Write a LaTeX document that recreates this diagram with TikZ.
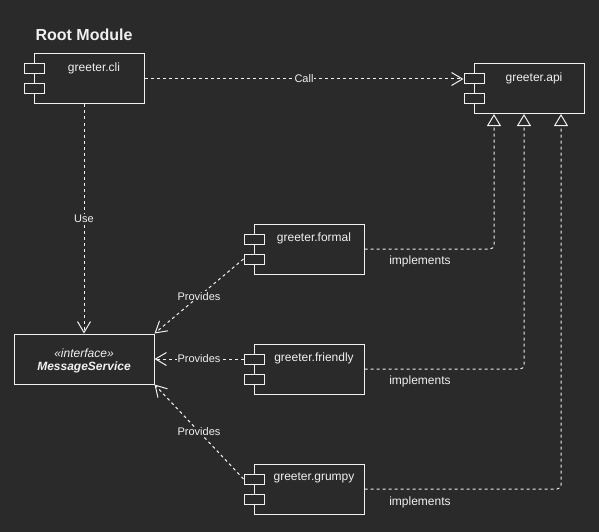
\documentclass[tikz,border=0pt]{standalone}
\usepackage{fontspec}
\setmainfont{Liberation Sans}
\usetikzlibrary{arrows.meta}
\definecolor{bg}{HTML}{2A2A2A}
\definecolor{fg}{HTML}{F0F0F0}
\begin{document}
\begin{tikzpicture}[x=1pt,y=-1pt,
  every node/.style={text=fg, inner sep=0pt},
  comp/.style={draw=fg, line width=1pt, minimum width=110pt, minimum height=50pt, fill=bg},
  port/.style={draw=fg, line width=1pt, minimum width=20pt, minimum height=10pt, fill=bg},
  ctext/.style={font=\fontsize{12}{14}\selectfont},
  elabel/.style={font=\fontsize{11}{13}\selectfont, fill=bg, inner sep=1pt},
  ilabel/.style={font=\fontsize{12}{14}\selectfont},
  dashline/.style={draw=fg, line width=1pt, dash pattern=on 3pt off 3pt},
  dep/.style={dashline, -{Straight Barb[length=11pt,width=13pt,line width=1pt]}},
  impl/.style={dashline, rounded corners=4pt, -{Triangle[open,length=12pt,width=14pt,fill=bg,line width=1pt]}}
]
\fill[bg] (0,0) rectangle (599,532);
\useasboundingbox (0,0) rectangle (599,532);

\node[font=\bfseries\fontsize{16}{18}\selectfont] (title) at (84,35) {Root Module};

% components
\node[comp] (cli) at (89,79) {};
\node[comp] (api) at (529,89) {};
\node[comp] (formal) at (309,249) {};
\node[comp] (friendly) at (309,369) {};
\node[comp] (grumpy) at (309,489) {};
\node[draw=fg, line width=1pt, minimum width=140pt, minimum height=50pt, fill=bg] (msg) at (84,359) {};

\node[port] (cli1) at (34,69) {};
\node[port] (cli2) at (34,89) {};
\node[port] (api1) at (474,79) {};
\node[port] (api2) at (474,99) {};
\node[port] (formal1) at (254,239) {};
\node[port] (formal2) at (254,259) {};
\node[port] (friendly1) at (254,359) {};
\node[port] (friendly2) at (254,379) {};
\node[port] (grumpy1) at (254,479) {};
\node[port] (grumpy2) at (254,499) {};

\node[ctext] (clit) at (94,68) {greeter.cli};
\node[ctext] (apit) at (534,78) {greeter.api};
\node[ctext] (formalt) at (314,238) {greeter.formal};
\node[ctext] (friendlyt) at (314,358) {greeter.friendly};
\node[ctext] (grumpyt) at (314,478) {greeter.grumpy};
\node[font=\itshape\fontsize{12}{14}\selectfont] (msgs) at (84,353) {«interface»};
\node[font=\bfseries\itshape\fontsize{12}{14}\selectfont] (msgn) at (84,367) {MessageService};

% implementation targets
\coordinate (t1) at (494,114);
\coordinate (t2) at (524,114);
\coordinate (t3) at (561,114);

% connectors
\draw[dep] (cli.east) -- node[elabel] (calll) {Call} (api1.west);
\draw[dep] (msg.north |- cli.south) -- node[elabel] (usel) {Use} (msg.north);
\draw[dep] (formal2.west) -- node[elabel] (p1) {Provides} (msg.north east);
\draw[dep] (friendly1.west) -- node[elabel] (p2) {Provides} (msg.east |- friendly1.west);
\draw[dep] (grumpy1.west) -- node[elabel] (p3) {Provides} (msg.south east);

\draw[impl] (formal.east) -| (t1);
\draw[impl] (friendly.east) -| (t2);
\draw[impl] (grumpy.east) -| (t3);

\node[ilabel] (i1) at (420,261) {implements};
\node[ilabel] (i2) at (420,381) {implements};
\node[ilabel] (i3) at (420,502) {implements};
\end{tikzpicture}
\end{document}
